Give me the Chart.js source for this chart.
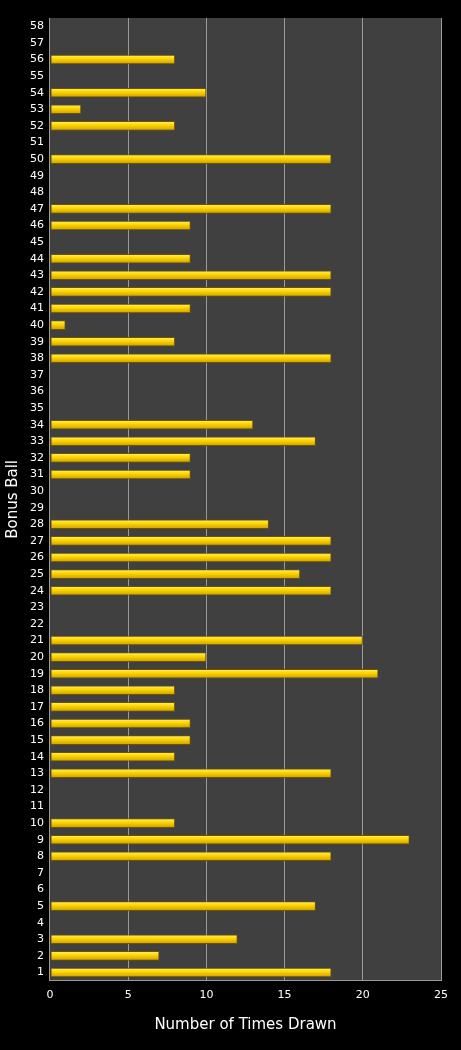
<!DOCTYPE html>
<html>
<head>
<meta charset="utf-8">
<style>
html, body { margin: 0; padding: 0; background: #000; }
#wrap { width: 461px; height: 1050px; }
</style>
<script src="https://cdn.jsdelivr.net/npm/chart.js@4"></script>
</head>
<body>
<div id="wrap"><canvas id="chart"></canvas></div>
<script>
// bonus balls, top of chart first (58 down to 1)
const balls = [];
for (let b = 58; b >= 1; b--) balls.push(String(b));

// times drawn per ball
const drawn = {
    56: 8, 54: 10, 53: 2, 52: 8, 50: 18, 47: 18, 46: 9, 44: 9, 43: 18, 42: 18,
    41: 9, 40: 1, 39: 8, 38: 18, 34: 13, 33: 17, 32: 9, 31: 9, 28: 14, 27: 18,
    26: 18, 25: 16, 24: 18, 21: 20, 20: 10, 19: 21, 18: 8, 17: 8, 16: 9, 15: 9,
    14: 8, 13: 18, 10: 8, 9: 23, 8: 18, 5: 17, 3: 12, 2: 7, 1: 18
};
const counts = balls.map(b => drawn[b] || 0);

const plotBg = {
    id: 'plotBg',
    beforeDraw(chart) {
        const { ctx, chartArea: a } = chart;
        ctx.save();
        ctx.fillStyle = '#404040';
        ctx.fillRect(a.left, a.top, a.right - a.left, a.bottom - a.top);
        ctx.restore();
    }
};

const ctx = document.getElementById('chart').getContext('2d');
// eslint-disable-next-line no-undef
new Chart(ctx, {
    type: 'bar',
    data: {
        labels: balls,
        datasets: [{
            label: 'Times Drawn',
            data: counts,
            backgroundColor: (c) => {
                const ys = c.chart.scales && c.chart.scales.y;
                if (!ys || c.dataIndex === undefined) return '#f2cc00';
                const y = ys.getPixelForValue(c.dataIndex);
                if (!isFinite(y)) return '#f2cc00';
                const g = c.chart.ctx.createLinearGradient(0, y - 5, 0, y + 5);
                g.addColorStop(0, '#fff27a');
                g.addColorStop(0.4, '#ffd800');
                g.addColorStop(1, '#c99a00');
                return g;
            },
            borderColor: '#6e5400',
            borderWidth: 1,
            borderSkipped: false,
            categoryPercentage: 1,
            barPercentage: 0.58
        }]
    },
    options: {
        indexAxis: 'y',
        responsive: true,
        maintainAspectRatio: false,
        animation: false,
        layout: { padding: { top: 18, right: 20, left: 0, bottom: 12 } },
        plugins: { legend: { display: false }, tooltip: { enabled: false } },
        scales: {
            x: {
                min: 0, max: 25,
                ticks: { stepSize: 5, color: '#fff', font: { family: 'DejaVu Sans', size: 11 }, padding: 8 },
                grid: { color: '#9a9a9a', drawTicks: false },
                border: { color: '#9a9a9a' },
                title: { display: true, text: 'Number of Times Drawn', color: '#fff',
                         font: { family: 'DejaVu Sans', size: 15 }, padding: { top: 6 } }
            },
            y: {
                ticks: { color: '#fff', font: { family: 'DejaVu Sans', size: 11 }, autoSkip: false, padding: 6 },
                grid: { display: false, drawTicks: false },
                border: { color: '#9a9a9a' },
                title: { display: true, text: 'Bonus Ball', color: '#fff',
                         font: { family: 'DejaVu Sans', size: 15 }, padding: { bottom: 2 } }
            }
        }
    },
    plugins: [plotBg]
});
</script>
</body>
</html>
